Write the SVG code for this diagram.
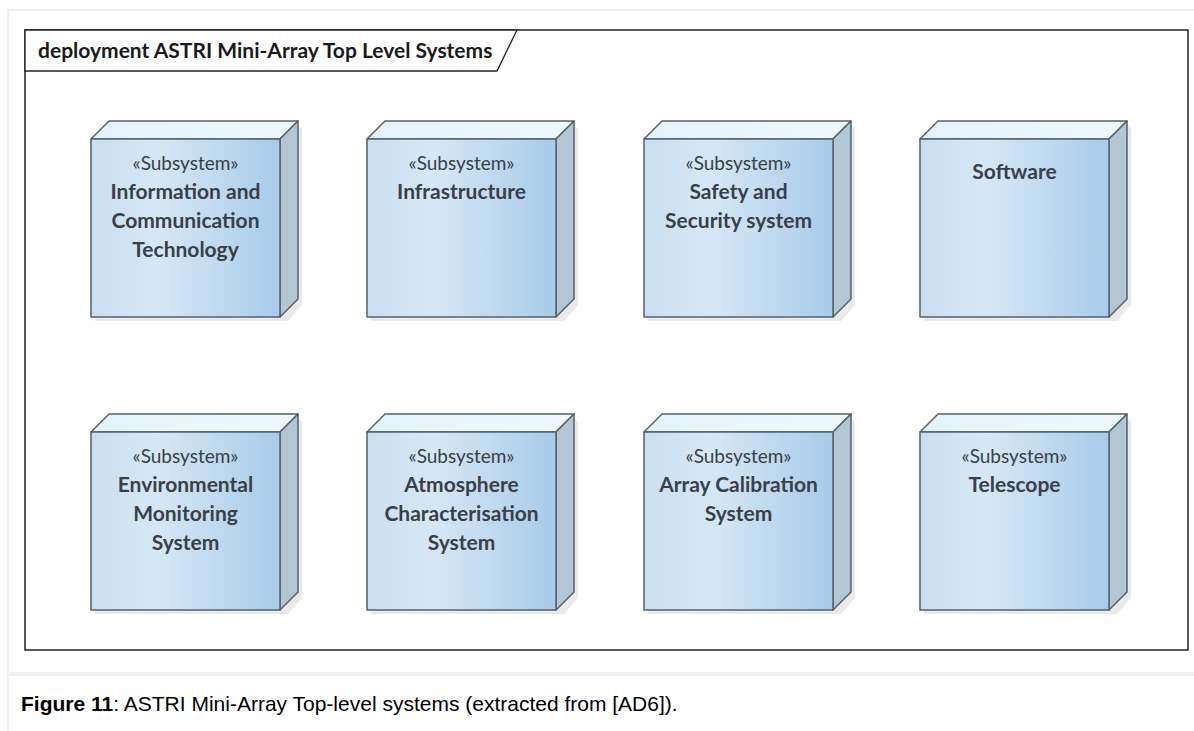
<svg xmlns="http://www.w3.org/2000/svg" xmlns:xlink="http://www.w3.org/1999/xlink" width="1194" height="731" viewBox="0 0 1194 731">
  <style>
    .st { font-family: Lato, "Open Sans", "Liberation Sans", sans-serif; font-size: 19px; fill: #3a4048; text-anchor: middle; }
    .nm { font-family: Lato, "Open Sans", "Liberation Sans", sans-serif; font-size: 21px; font-weight: bold; fill: #3a4048; text-anchor: middle; }
    .title { font-family: Lato, "Open Sans", "Liberation Sans", sans-serif; font-size: 21px; font-weight: bold; fill: #1a1a1a; }
    .cap { font-family: "Liberation Sans", Arial, sans-serif; font-size: 21px; fill: #000; }
    .edge { stroke: #56616b; stroke-width: 1.5; stroke-linejoin: round; }
  </style>
  <defs>
    <linearGradient id="gFront" x1="0" y1="0" x2="1" y2="0">
      <stop offset="0" stop-color="#c9dff0"/>
      <stop offset="0.35" stop-color="#d6e8f5"/>
      <stop offset="1" stop-color="#a7cbea"/>
    </linearGradient>
    <linearGradient id="gTop" x1="0" y1="0" x2="1" y2="0">
      <stop offset="0" stop-color="#e4f3fa"/>
      <stop offset="1" stop-color="#eef9fd"/>
    </linearGradient>
    <g id="nodeShape">
      <polygon points="4,4 207,-14 211,-10 211,166 197,182 4,182" fill="#dcdcdc" opacity="0.6"/>
      <polygon class="edge" points="0,0 18,-18 207,-18 189,0" fill="url(#gTop)"/>
      <polygon class="edge" points="189,0 207,-18 207,160 189,178" fill="#b3c6d4"/>
      <rect class="edge" x="0" y="0" width="189" height="178" fill="url(#gFront)"/>
    </g>
  </defs>

  <rect x="0" y="0" width="1194" height="731" fill="#ffffff"/>
  <!-- page panel -->
  <rect x="8" y="10" width="1190" height="730" fill="none" stroke="#ececec" stroke-width="1.5"/>
  <rect x="8" y="672" width="1190" height="4" fill="#f0f0f0"/>

  <!-- diagram frame -->
  <g id="frame">
    <rect x="25" y="30" width="1163" height="620" fill="#ffffff" stroke="#222" stroke-width="1.5"/>
    <polygon points="25,30 517,30 497,71 25,71" fill="#ffffff" stroke="#222" stroke-width="1.3"/>
    <text class="title" x="38" y="58">deployment ASTRI Mini-Array Top Level Systems</text>
  </g>

  <g id="node-ict" transform="translate(91,139)">
    <use xlink:href="#nodeShape"/>
    <text class="st" x="94.5" y="31">«Subsystem»</text>
    <text class="nm" x="94.5" y="60">Information and</text>
    <text class="nm" x="94.5" y="89">Communication</text>
    <text class="nm" x="94.5" y="118">Technology</text>
  </g>
  <g id="node-infrastructure" transform="translate(367,139)">
    <use xlink:href="#nodeShape"/>
    <text class="st" x="94.5" y="31">«Subsystem»</text>
    <text class="nm" x="94.5" y="60">Infrastructure</text>
  </g>
  <g id="node-safety" transform="translate(644,139)">
    <use xlink:href="#nodeShape"/>
    <text class="st" x="94.5" y="31">«Subsystem»</text>
    <text class="nm" x="94.5" y="60">Safety and</text>
    <text class="nm" x="94.5" y="89">Security system</text>
  </g>
  <g id="node-software" transform="translate(920,139)">
    <use xlink:href="#nodeShape"/>
    <text class="nm" x="94.5" y="40">Software</text>
  </g>

  <g id="node-environmental" transform="translate(91,432)">
    <use xlink:href="#nodeShape"/>
    <text class="st" x="94.5" y="31">«Subsystem»</text>
    <text class="nm" x="94.5" y="60">Environmental</text>
    <text class="nm" x="94.5" y="89">Monitoring</text>
    <text class="nm" x="94.5" y="118">System</text>
  </g>
  <g id="node-atmosphere" transform="translate(367,432)">
    <use xlink:href="#nodeShape"/>
    <text class="st" x="94.5" y="31">«Subsystem»</text>
    <text class="nm" x="94.5" y="60">Atmosphere</text>
    <text class="nm" x="94.5" y="89">Characterisation</text>
    <text class="nm" x="94.5" y="118">System</text>
  </g>
  <g id="node-calibration" transform="translate(644,432)">
    <use xlink:href="#nodeShape"/>
    <text class="st" x="94.5" y="31">«Subsystem»</text>
    <text class="nm" x="94.5" y="60">Array Calibration</text>
    <text class="nm" x="94.5" y="89">System</text>
  </g>
  <g id="node-telescope" transform="translate(920,432)">
    <use xlink:href="#nodeShape"/>
    <text class="st" x="94.5" y="31">«Subsystem»</text>
    <text class="nm" x="94.5" y="60">Telescope</text>
  </g>

  <g id="connectors"></g>

  <text class="cap" x="21" y="711"><tspan font-weight="bold">Figure 11</tspan>: ASTRI Mini-Array Top-level systems (extracted from [AD6]).</text>
</svg>
